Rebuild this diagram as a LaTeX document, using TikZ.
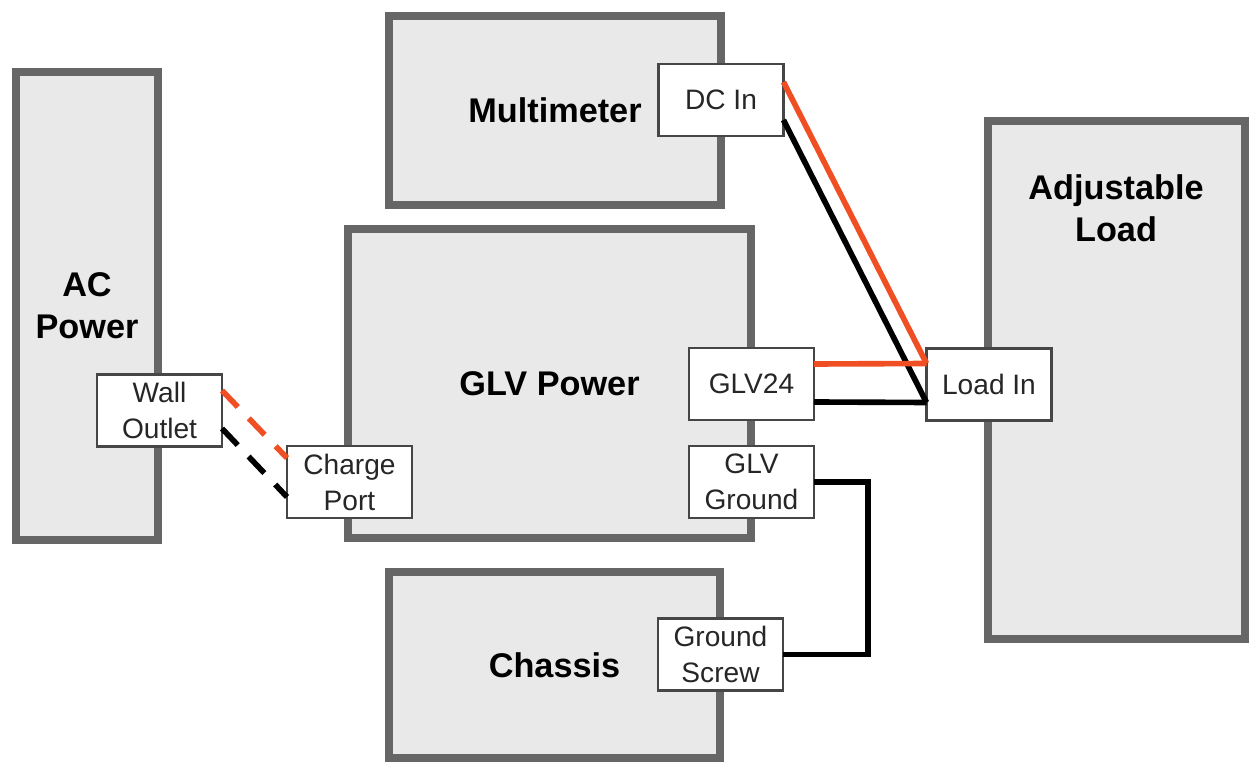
\documentclass[tikz,border=0pt]{standalone}
\usepackage{fontspec}
\setmainfont{Liberation Sans}
\usetikzlibrary{shadows}
\definecolor{unitgray}{RGB}{102,102,102}
\definecolor{unitfill}{RGB}{233,233,233}
\definecolor{portgray}{RGB}{70,70,70}
\definecolor{hotred}{RGB}{240,78,35}
\tikzset{
    block/.style={
        draw=unitgray,
        line width=4.5pt,
        fill=unitfill,
        inner sep=0pt,
        outer sep=0pt,
        drop shadow={shadow xshift=1.5pt, shadow yshift=-1.5pt, opacity=0.15},
        font=\bfseries\fontsize{19.5}{24}\selectfont,
        align=center
    },
    blocktitle/.style={
        font=\bfseries\fontsize{19.5}{24}\selectfont,
        align=center
    },
    port/.style={
        draw=portgray,
        line width=1.2pt,
        fill=white,
        minimum width=2.5cm,
        minimum height=1.44cm,
        inner sep=0pt,
        outer sep=0pt,
        text=black!85,
        font=\fontsize{16}{20.5}\selectfont,
        align=center
    },
    wire/.style={line width=3.2pt},
    plug/.style={dash pattern=on 13pt off 9pt}
}
\begin{document}
\begin{tikzpicture}[x=0.02cm, y=-0.02cm]
    % Help lines :
    % \draw [help lines] (0,0) grid (1252,763);
    \useasboundingbox (0,0) rectangle (1252,763);

    % Units
    \node (acpower) [block, minimum width=2.84cm, minimum height=9.36cm] at (87,306) {AC\\Power};
    \node (multimeter) [block, minimum width=6.64cm, minimum height=3.78cm] at (555,110.5) {Multimeter};
    \node (glvpower) [block, minimum width=8.06cm, minimum height=6.18cm] at (549.5,383.5) {GLV Power};
    \node (chassis) [block, minimum width=6.62cm, minimum height=3.72cm] at (554.5,665) {Chassis};
    \node (adjload) [block, minimum width=5.14cm, minimum height=10.36cm] at (1116.5,380) {};
    \node (loadtitle) [blocktitle] at (1116,208) {Adjustable\\Load};

    % Ports
    \node (dcin) [port] at (721,100) {DC In};
    \node (outlet) [port] at (159.5,410.5) {Wall\\Outlet};
    \node (chargeport) [port] at (349.5,482) {Charge\\Port};
    \node (glvhigh) [port] at (751.5,384) {GLV24};
    \node (glvground) [port] at (751.5,482) {GLV\\Ground};
    \node (loadin) [port] at (989,384.5) {Load In};
    \node (groundscrew) [port] at (720.5,654.5) {Ground\\Screw};

    % Wires
    \path [wire]
        % Multimeter leads
        ([yshift=0.36cm]dcin.east) edge [hotred] ([yshift=0.42cm]loadin.west)
        ([yshift=-0.4cm]dcin.east) edge [black] ([yshift=-0.36cm]loadin.west)

        % GLV supply
        ([yshift=0.4cm]glvhigh.east) edge [hotred] ([yshift=0.42cm]loadin.west)
        ([yshift=-0.36cm]glvhigh.east) edge [black] ([yshift=-0.36cm]loadin.west)

        % Charger
        ([yshift=0.4cm]outlet.east) edge [hotred, plug] ([yshift=0.48cm]chargeport.west)
        ([yshift=-0.36cm]outlet.east) edge [black, plug] ([yshift=-0.3cm]chargeport.west)
    ;
    \draw [wire] (glvground.east) -- ++(54,0) |- (groundscrew.east);
\end{tikzpicture}
\end{document}
